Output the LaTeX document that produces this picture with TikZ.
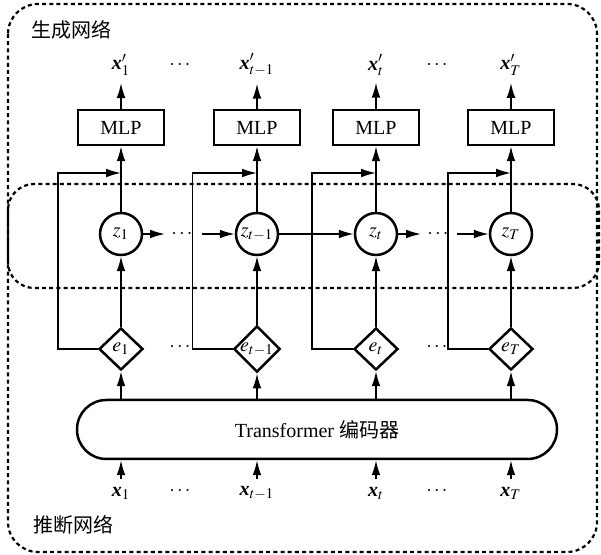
\documentclass[tikz,border=0pt]{standalone}
\usepackage{mathptmx}
\usepackage{fontspec}
\setmainfont{Liberation Serif}
\newfontfamily\cjk{Noto Sans CJK SC}
\usetikzlibrary{arrows.meta,shapes.geometric}
\newcommand{\bx}{\textbf{\textit{x}}}
\begin{document}
\begin{tikzpicture}[x=0.5pt, y=-0.5pt, line width=0.8pt,
	arr/.style={-{Latex[length=7.5pt,width=4.4pt]}},
	mlpbox/.style={draw, line width=1.25pt, minimum width=43pt, minimum height=17.5pt, inner sep=0pt},
	zcirc/.style={draw, circle, line width=1.25pt, minimum size=21pt, inner sep=0pt},
	ediam/.style={draw, diamond, line width=1.25pt, minimum width=22pt, minimum height=21pt, inner sep=0pt},
	encbox/.style={draw, rounded corners=14.7pt, line width=1.25pt, minimum width=240pt, minimum height=29.5pt},
	grp/.style={line width=1.1pt, dash pattern=on 2pt off 1.6pt}]
	\useasboundingbox (0,0) rectangle (601,555);
	% dashed groups
	\draw[grp, rounded corners=15pt] (8,4) rectangle (597,552);
	\draw[grp, rounded corners=13pt] (8,184) rectangle (599,288);
	\node[anchor=west, font=\cjk] (gen) at (24,30) {生成网络};
	\node[anchor=west, font=\cjk] (inf) at (26,525) {推断网络};
	% outputs
	\node (xp1) at (121,65) {$\bx'_1$};
	\node (xp2) at (257,65) {$\bx'_{t-1}$};
	\node (xp3) at (376,65) {$\bx'_t$};
	\node (xp4) at (511,65) {$\bx'_T$};
	\node (dp1) at (180,65) {$\cdots$};
	\node (dp2) at (437,65) {$\cdots$};
	% MLP
	\node[mlpbox] (m1) at (121,127.5) {MLP};
	\node[mlpbox] (m2) at (257,127.5) {MLP};
	\node[mlpbox] (m3) at (376,127.5) {MLP};
	\node[mlpbox] (m4) at (511,127.5) {MLP};
	% latent states
	\node[zcirc] (z1) at (121,234) {$z_1$};
	\node[zcirc] (z2) at (257,234) {$z_{t-1}$};
	\node[zcirc] (z3) at (376,234) {$z_t$};
	\node[zcirc] (z4) at (511,234) {$z_T$};
	\node (dz1) at (182,234) {$\cdots$};
	\node (dz2) at (438,234) {$\cdots$};
	\coordinate (a1) at (165,234);
	\coordinate (b1) at (202,234);
	\coordinate (a2) at (421,234);
	\coordinate (b2) at (457,234);
	% embeddings
	\node[ediam] (e1) at (121,349) {$e_1$};
	\node[ediam] (e2) at (257,349) {$e_{t-1}$};
	\node[ediam] (e3) at (376,349) {$e_t$};
	\node[ediam] (e4) at (511,349) {$e_T$};
	\node (de1) at (180,347) {$\cdots$};
	\node (de2) at (437,347) {$\cdots$};
	% encoder and inputs
	\node[encbox] (enc) at (317,429.5) {Transformer {\cjk 编码器}};
	\node (x1) at (121,493) {$\bx_1$};
	\node (x2) at (257,493) {$\bx_{t-1}$};
	\node (x3) at (376,493) {$\bx_t$};
	\node (x4) at (511,493) {$\bx_T$};
	\node (dx1) at (180,491) {$\cdots$};
	\node (dx2) at (437,491) {$\cdots$};
	\coordinate (j1) at (121,173);
	\coordinate (j2) at (257,173);
	\coordinate (j3) at (376,173);
	\coordinate (j4) at (511,173);
	% connectors
	\draw[arr] (m1) -- (xp1);
	\draw[arr] (m2) -- (xp2);
	\draw[arr] (m3) -- (xp3);
	\draw[arr] (m4) -- (xp4);
	\draw[arr] (z1) -- (m1);
	\draw[arr] (z2) -- (m2);
	\draw[arr] (z3) -- (m3);
	\draw[arr] (z4) -- (m4);
	\draw[arr] (e1) -- (z1);
	\draw[arr] (e2) -- (z2);
	\draw[arr] (e3) -- (z3);
	\draw[arr] (e4) -- (z4);
	\draw[arr] (e1.west) -- ++(-40,0) |- (j1);
	\draw[arr] (e2.west) -- ++(-40,0) |- (j2);
	\draw[arr] (e3.west) -- ++(-41,0) |- (j3);
	\draw[arr] (e4.west) -- ++(-40,0) |- (j4);
	\draw[arr] (z1) -- (a1);
	\draw[arr] (b1) -- (z2);
	\draw[arr] (z2) -- (z3);
	\draw[arr] (z3) -- (a2);
	\draw[arr] (b2) -- (z4);
	\draw[arr] (enc.north -| e1) -- (e1);
	\draw[arr] (enc.north -| e2) -- (e2);
	\draw[arr] (enc.north -| e3) -- (e3);
	\draw[arr] (enc.north -| e4) -- (e4);
	\draw[arr] (x1) -- (enc.south -| x1);
	\draw[arr] (x2) -- (enc.south -| x2);
	\draw[arr] (x3) -- (enc.south -| x3);
	\draw[arr] (x4) -- (enc.south -| x4);
\end{tikzpicture}
\end{document}
